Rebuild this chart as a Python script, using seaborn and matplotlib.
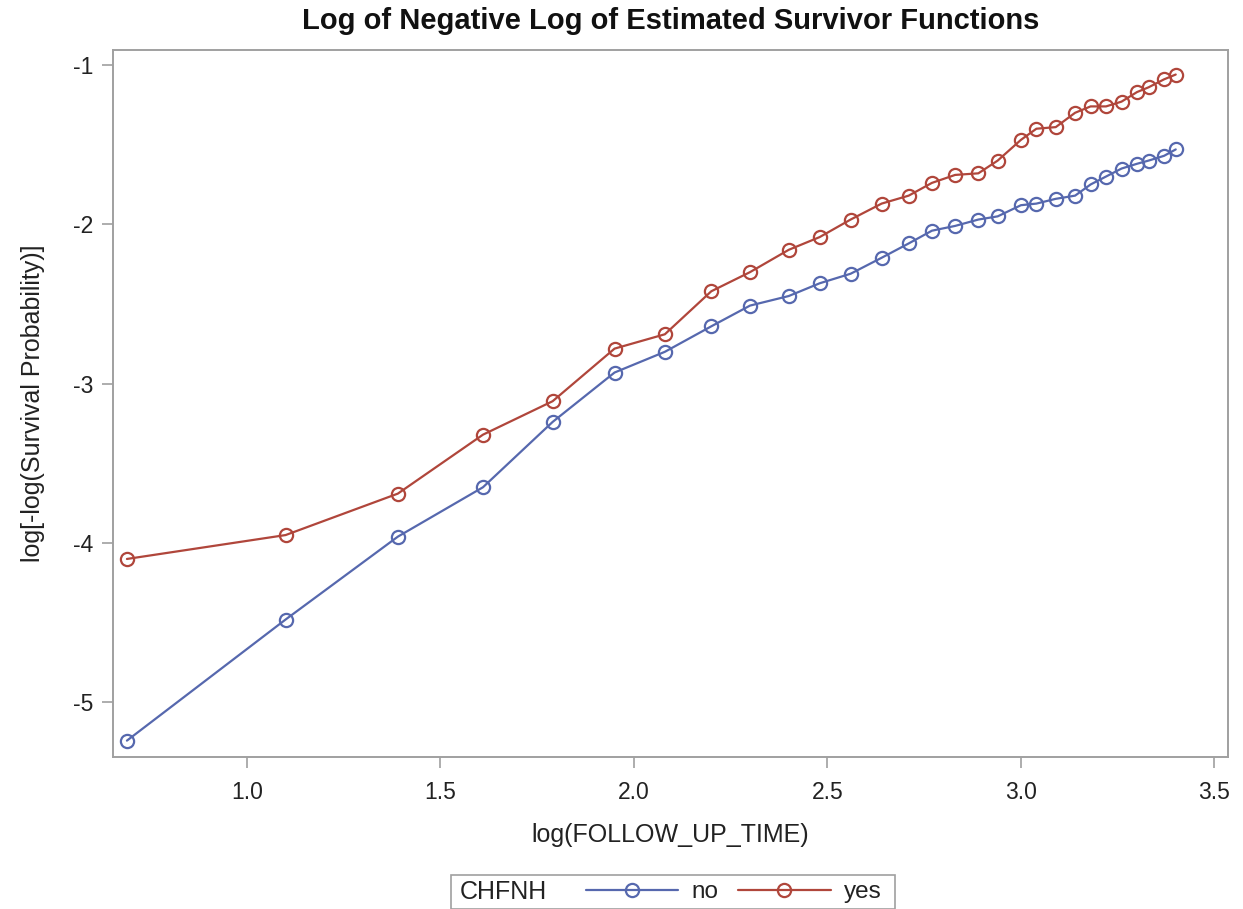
import numpy as np
import pandas as pd
import seaborn as sns
from matplotlib import pyplot as plt
from matplotlib.lines import Line2D
from matplotlib.patches import Rectangle

# log(follow-up time) for t = 2..30
log_time = [0.69, 1.10, 1.39, 1.61, 1.79, 1.95, 2.08, 2.20, 2.30, 2.40,
            2.48, 2.56, 2.64, 2.71, 2.77, 2.83, 2.89, 2.94, 3.00, 3.04,
            3.09, 3.14, 3.18, 3.22, 3.26, 3.30, 3.33, 3.37, 3.40]

loglog_no = [-5.24, -4.48, -3.96, -3.65, -3.24, -2.93, -2.80, -2.64, -2.51, -2.45,
             -2.37, -2.31, -2.21, -2.12, -2.04, -2.01, -1.97, -1.95, -1.88, -1.87,
             -1.84, -1.82, -1.75, -1.70, -1.65, -1.62, -1.60, -1.57, -1.53]

loglog_yes = [-4.10, -3.95, -3.69, -3.32, -3.11, -2.78, -2.69, -2.42, -2.30, -2.16,
              -2.08, -1.97, -1.87, -1.82, -1.74, -1.69, -1.68, -1.60, -1.47, -1.40,
              -1.39, -1.30, -1.26, -1.26, -1.23, -1.17, -1.14, -1.09, -1.06]

groups = ['no', 'yes']
colors = {'no': '#5668AE', 'yes': '#B0463B'}

df = pd.DataFrame({
    'x': log_time * 2,
    'y': loglog_no + loglog_yes,
    'CHFNH': ['no'] * len(log_time) + ['yes'] * len(log_time),
})

sns.set_style('white')
plt.rcParams['font.family'] = ['Liberation Sans', 'DejaVu Sans']

fig = plt.figure(figsize=(12.43, 9.09), dpi=100)
ax = fig.add_axes([0.0909, 0.167, 0.897, 0.778])

sns.lineplot(data=df, x='x', y='y', hue='CHFNH', hue_order=groups, palette=colors,
             marker='o', markersize=9.5, markerfacecolor='none', markeredgewidth=1.6,
             linewidth=1.6, legend=False, ax=ax, sort=False)
for ln, g in zip(ax.get_lines(), groups):
    ln.set_markeredgecolor(colors[g])

ax.set_xlim(0.654, 3.535)
ax.set_ylim(-5.344, -0.906)
ax.set_xticks([1.0, 1.5, 2.0, 2.5, 3.0, 3.5])
ax.set_xticklabels(['1.0', '1.5', '2.0', '2.5', '3.0', '3.5'])
ax.set_yticks([-5, -4, -3, -2, -1])
ax.set_yticklabels(['-5', '-4', '-3', '-2', '-1'])
ax.tick_params(axis='both', length=8, width=1.2, color='#a0a0a0',
               labelsize=16.5, labelcolor='#222222', pad=6, direction='out')
ax.tick_params(axis='x', bottom=True, pad=9)
ax.tick_params(axis='y', left=True)
for sp in ax.spines.values():
    sp.set_color('#a0a0a0')
    sp.set_linewidth(1.4)

ax.set_xlabel('log(FOLLOW_UP_TIME)', fontsize=18, color='#222222', labelpad=14)
ax.set_ylabel('log[-log(Survival Probability)]', fontsize=18, color='#222222', labelpad=20)
fig.text(0.5396, 0.977, 'Log of Negative Log of Estimated Survivor Functions',
         fontsize=21, fontweight='bold', color='#111111', ha='center', va='center')

# legend strip with inline title
handles = [Line2D([], [], color=colors[g], marker='o', markersize=9.5,
                  markerfacecolor='none', markeredgewidth=1.6, linewidth=1.6)
           for g in groups]
leg = fig.legend(handles, groups, ncol=2, loc='center left',
                 bbox_to_anchor=(0.4537, 0.0187), frameon=False, fontsize=17.5,
                 handlelength=3.8, handletextpad=0.56, columnspacing=0.8)
for t in leg.get_texts():
    t.set_color('#222222')
fig.text(0.370, 0.0187, 'CHFNH', fontsize=18, color='#222222', va='center', ha='left')
fig.patches.append(Rectangle((0.363, 0.0), 0.357, 0.037, transform=fig.transFigure,
                             fill=False, edgecolor='#a0a0a0', linewidth=1.2))

fig.savefig('out.png', dpi=100)
